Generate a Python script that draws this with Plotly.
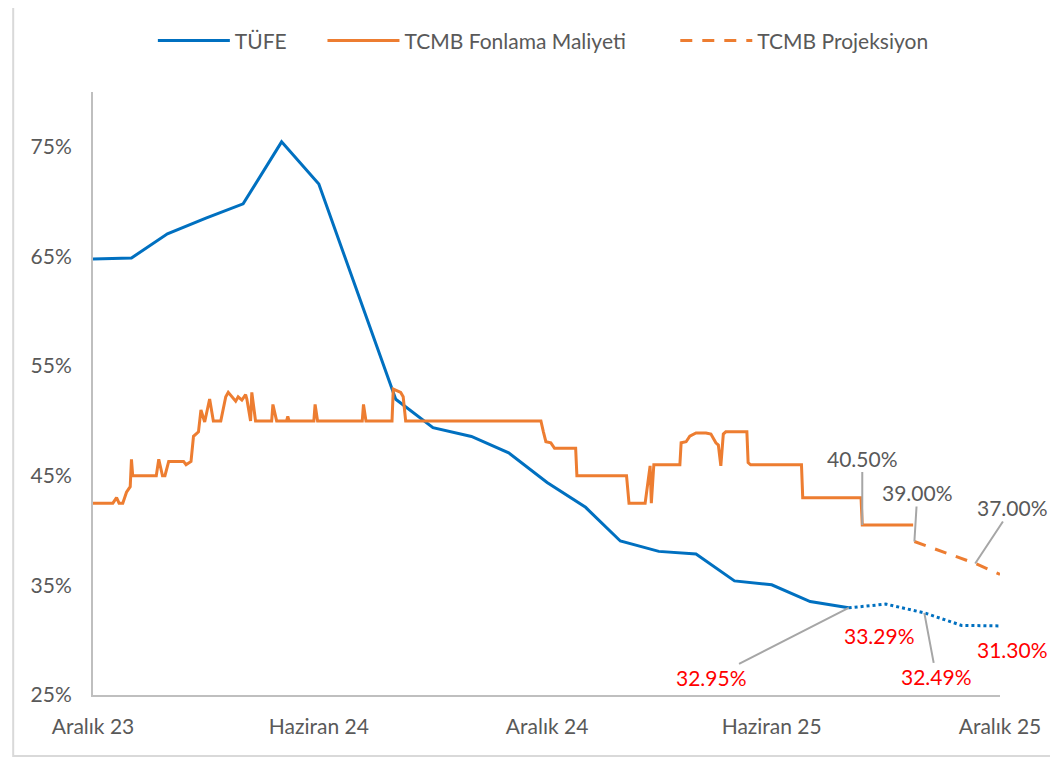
import plotly.graph_objects as go

# TÜFE (yıllık, ay sonu)
tufe_dates = ["2023-12-31", "2024-01-31", "2024-02-29", "2024-03-31", "2024-04-30",
              "2024-05-31", "2024-06-30", "2024-07-31", "2024-08-31", "2024-09-30",
              "2024-10-31", "2024-11-30", "2024-12-31", "2025-01-31", "2025-02-28",
              "2025-03-31", "2025-04-30", "2025-05-31", "2025-06-30", "2025-07-31",
              "2025-08-31"]
tufe_values = [64.77, 64.86, 67.07, 68.50, 69.80, 75.45, 71.60, 61.78, 51.97, 49.38,
               48.58, 47.09, 44.38, 42.12, 39.05, 38.10, 37.86, 35.41, 35.05, 33.52,
               32.95]

# TÜFE beklenti (noktalı)
tufe_proj_dates = ["2025-08-31", "2025-09-30", "2025-10-31", "2025-11-30", "2025-12-31"]
tufe_proj_values = [32.95, 33.29, 32.49, 31.35, 31.30]

# TCMB ağırlıklı ortalama fonlama maliyeti (kırılım noktaları)
fon_dates = ["2023-12-31", "2024-01-16", "2024-01-19", "2024-01-21", "2024-01-24",
             "2024-01-27", "2024-01-30", "2024-01-31", "2024-02-01", "2024-02-20",
             "2024-02-22", "2024-02-25", "2024-02-27", "2024-03-01", "2024-03-13",
             "2024-03-15", "2024-03-19", "2024-03-21", "2024-03-25", "2024-03-27",
             "2024-03-30", "2024-04-03", "2024-04-06", "2024-04-12", "2024-04-16",
             "2024-04-18", "2024-04-24", "2024-04-26", "2024-04-29", "2024-05-02",
             "2024-05-03", "2024-05-06", "2024-05-07", "2024-05-10", "2024-05-23",
             "2024-05-24", "2024-05-27", "2024-06-04", "2024-06-05", "2024-06-06",
             "2024-06-26", "2024-06-27", "2024-06-29", "2024-08-04", "2024-08-05",
             "2024-08-07", "2024-08-28", "2024-08-29", "2024-09-04", "2024-09-06",
             "2024-09-08", "2024-12-26", "2024-12-28", "2024-12-30", "2025-01-03",
             "2025-01-06", "2025-01-23", "2025-01-24", "2025-03-05", "2025-03-07",
             "2025-03-20", "2025-03-24", "2025-03-25", "2025-03-27", "2025-04-17",
             "2025-04-18", "2025-04-22", "2025-04-25", "2025-04-30", "2025-05-08",
             "2025-05-12", "2025-05-16", "2025-05-18", "2025-05-20", "2025-05-22",
             "2025-05-24", "2025-06-10", "2025-06-11", "2025-06-13", "2025-07-24",
             "2025-07-25", "2025-09-10", "2025-09-11", "2025-10-22"]
fon_values = [42.5, 42.5, 43.0, 42.5, 42.5, 43.5, 44.0, 46.5, 45.0, 45.0,
              46.5, 45.0, 45.0, 46.3, 46.3, 46.0, 46.3, 48.6, 49.0, 51.0,
              49.9, 52.0, 50.0, 50.0, 52.2, 52.6, 51.8, 52.2, 51.9, 52.4,
              52.0, 50.0, 52.6, 50.0, 50.0, 51.5, 50.0, 50.0, 50.4, 50.0,
              50.0, 51.5, 50.0, 50.0, 51.5, 50.0, 50.0, 52.9, 52.6, 52.2,
              50.0, 50.0, 49.0, 48.1, 48.0, 47.5, 47.5, 45.0, 45.0, 42.5,
              42.5, 45.9, 42.5, 46.0, 46.0, 48.0, 48.1, 48.6, 48.9, 48.9,
              48.8, 48.0, 47.8, 45.9, 48.8, 49.0, 49.0, 46.2, 46.0, 46.0,
              43.0, 43.0, 40.5, 40.5]

# TCMB projeksiyon (kesikli)
proj_dates = ["2025-10-23", "2025-12-11", "2025-12-31"]
proj_values = [39.0, 37.0, 36.0]

tick_dates = ["2023-12-31", "2024-06-30", "2024-12-31", "2025-06-30", "2025-12-31"]
tick_labels = ["Aralık 23", "Haziran 24", "Aralık 24", "Haziran 25", "Aralık 25"]
y_ticks = [25, 35, 45, 55, 65, 75]
y_labels = [f"{v}%" for v in y_ticks]

BLUE = "#0070C0"
ORANGE = "#ED7D31"
GREY_TXT = "#595959"
RED = "#FF0000"
LEADER = "#A6A6A6"
FONT = "Lato, Open Sans, sans-serif"
FS = 21

fig = go.Figure()
fig.add_trace(go.Scatter(x=tufe_dates, y=tufe_values, mode="lines", name="TÜFE",
                         line=dict(color=BLUE, width=3), legend="legend"))
fig.add_trace(go.Scatter(x=fon_dates, y=fon_values, mode="lines", name="TCMB Fonlama Maliyeti",
                         line=dict(color=ORANGE, width=3), legend="legend2"))
fig.add_trace(go.Scatter(x=proj_dates, y=proj_values, mode="lines", name="TCMB Projeksiyon",
                         line=dict(color=ORANGE, width=3, dash="12px,10px"), legend="legend3"))
fig.add_trace(go.Scatter(x=tufe_proj_dates, y=tufe_proj_values, mode="lines", showlegend=False,
                         line=dict(color=BLUE, width=3, dash="dot")))

# veri etiketleri
labels = [
    # x, y, text, color, ax, ay
    (fon_dates[-2], 40.5, "40.50%", GREY_TXT, 0, -67),
    (proj_dates[0], 39.0, "39.00%", GREY_TXT, 3, -49),
    (proj_dates[1], 37.0, "37.00%", GREY_TXT, 37, -56),
    (tufe_proj_dates[0], 32.95, "32.95%", RED, -137, 70),
    (tufe_proj_dates[2], 32.49, "32.49%", RED, 12, 64),
]
for x, y, txt, col, ax, ay in labels:
    fig.add_annotation(x=x, y=y, text=txt, showarrow=True, ax=ax, ay=ay,
                       arrowhead=0, arrowwidth=2, arrowcolor=LEADER,
                       font=dict(size=FS, color=col, family=FONT))
fig.add_annotation(x=tufe_proj_dates[1], y=33.29, text="33.29%", showarrow=False,
                   xshift=-6, yshift=-31, font=dict(size=FS, color=RED, family=FONT))
fig.add_annotation(x=tufe_proj_dates[4], y=31.30, text="31.30%", showarrow=False,
                   xshift=12, yshift=-24, font=dict(size=FS, color=RED, family=FONT))

# dış çerçeve
fig.add_shape(type="rect", xref="paper", yref="paper",
              x0=-0.088, x1=1.07, y0=-0.101, y1=1.149,
              line=dict(color="#D9D9D9", width=2), layer="below")

leg = dict(orientation="h", xanchor="left", y=1.085, yanchor="middle",
           font=dict(size=FS, color=GREY_TXT), itemwidth=72)

fig.update_layout(
    width=1050, height=750,
    paper_bgcolor="white", plot_bgcolor="white",
    margin=dict(l=85, r=58, t=84, b=63),
    font=dict(family=FONT, size=FS, color=GREY_TXT),
    legend=dict(leg, x=0.066),
    legend2=dict(leg, x=0.253),
    legend3=dict(leg, x=0.642),
    xaxis=dict(type="date", range=["2023-12-31", "2025-12-31"],
               tickvals=tick_dates, ticktext=tick_labels, showgrid=False,
               showline=True, linecolor="#BFBFBF", linewidth=2, zeroline=False,
               ticks="", ticklabelstandoff=12),
    yaxis=dict(range=[25, 80], tickvals=y_ticks, ticktext=y_labels, showgrid=False,
               showline=True, linecolor="#BFBFBF", linewidth=2, zeroline=False,
               ticks="", ticklabelstandoff=15),
)

fig.write_html("out.html")
